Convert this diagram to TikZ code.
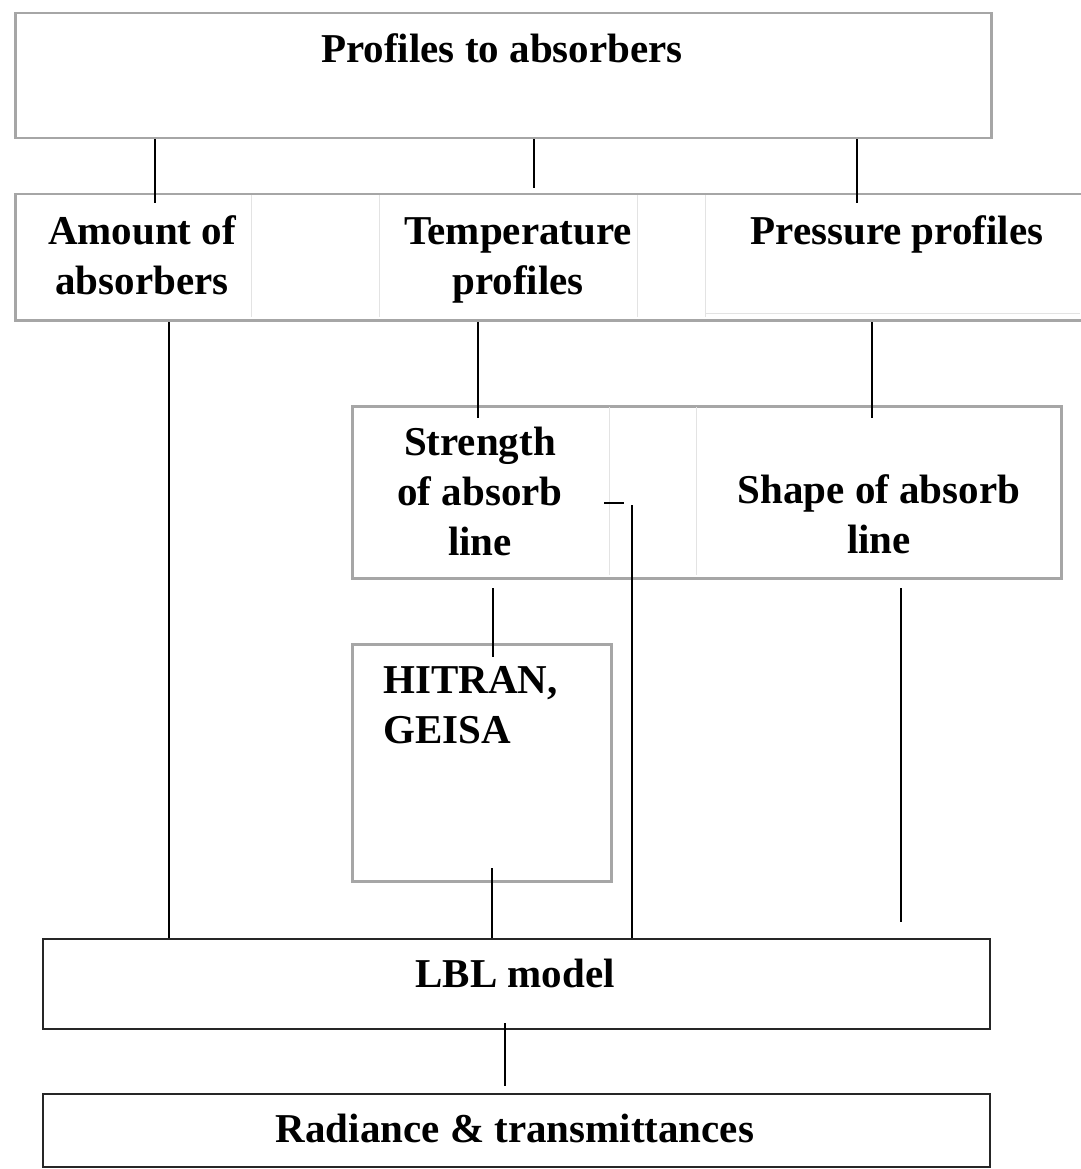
\documentclass[tikz,border=0pt]{standalone}
\usepackage{fontspec}
\setmainfont{Liberation Serif}
\usetikzlibrary{positioning}
\definecolor{boxgrey}{HTML}{A6A6A6}
\definecolor{cellgrey}{HTML}{E3E3E3}
\tikzset{greybox/.style = {draw=boxgrey, line width=2.5pt, anchor=north west, inner sep=0pt}}
\tikzset{darkbox/.style = {draw=black!85, line width=2pt, anchor=north west, inner sep=0pt}}
\tikzset{txt/.style = {font=\bfseries\fontsize{41}{50}\selectfont, align=center, anchor=base, inner sep=0pt}}
\tikzset{wire/.style = {line width=2pt}}
\tikzset{cell/.style = {draw=cellgrey, line width=1pt}}

\begin{document}
\begin{tikzpicture}[x=1pt, y=-1pt]
  \useasboundingbox (0, 0) rectangle (1080, 1169);

  % boxes
  \node [greybox, minimum width=976pt, minimum height=125pt] (prof) at (14, 12) {};
  \node [greybox, minimum width=1080pt, minimum height=126pt] (tab) at (14, 193) {};
  \node [greybox, minimum width=709pt, minimum height=172pt] (absline) at (351, 405) {};
  \node [greybox, minimum width=259pt, minimum height=237pt] (db) at (351, 643) {};
  \node [darkbox, minimum width=947pt, minimum height=90pt] (lbl) at (42, 938) {};
  \node [darkbox, minimum width=947pt, minimum height=73pt] (rad) at (42, 1093) {};

  % faint cell borders
  \foreach \x in {251, 379, 637, 705}
    \draw [cell] (\x, 195) -- (\x, 317);
  \draw [cell] (705, 313) -- (1080, 313);
  \foreach \x in {609, 696}
    \draw [cell] (\x, 407) -- (\x, 575);

  % texts (base = last line)
  \node [txt] (t-prof) at (502, 63) {Profiles to absorbers};
  \node [txt] (t-amt) at (142, 294) {Amount of\\absorbers};
  \node [txt] (t-temp) at (518, 294) {Temperature\\profiles};
  \node [txt] (t-pres) at (897, 244) {Pressure profiles};
  \node [txt] (t-str) at (480, 555) {Strength\\of absorb\\line};
  \node [txt] (t-shape) at (879, 553) {Shape of absorb\\line};
  \node [txt, align=left, anchor=base west] (t-db) at (383, 743) {HITRAN,\\GEISA};
  \node [txt] (t-lbl) at (515, 987) {LBL model};
  \node [txt] (t-rad) at (515, 1142) {Radiance \& transmittances};

  % connectors
  \coordinate (c-amt) at (155, 203);
  \coordinate (c-temp) at (534, 188);
  \coordinate (c-pres) at (857, 203);
  \draw [wire] (prof.south -| c-amt) -- (c-amt);
  \draw [wire] (prof.south -| c-temp) -- (c-temp);
  \draw [wire] (prof.south -| c-pres) -- (c-pres);

  \coordinate (d-amt) at (169, 322);
  \coordinate (d-temp) at (478, 322);
  \coordinate (d-pres) at (872, 322);
  \draw [wire] (d-amt) -- (d-amt |- lbl.north);
  \draw [wire] (d-temp) -- (478, 418);
  \draw [wire] (d-pres) -- (872, 418);

  \coordinate (tick) at (604, 503);
  \coordinate (d-str) at (632, 505);
  \draw [wire] (tick) -- ++(20, 0);
  \draw [wire] (d-str) -- (d-str |- lbl.north);

  \coordinate (e-str) at (493, 588);
  \coordinate (e-shape) at (901, 588);
  \draw [wire] (e-str) -- (493, 657);
  \draw [wire] (e-shape) -- (901, 922);

  \coordinate (f-db) at (492, 868);
  \draw [wire] (f-db) -- (f-db |- lbl.north);

  \coordinate (g-lbl) at (505, 1023);
  \draw [wire] (g-lbl) -- (505, 1086);
\end{tikzpicture}
\end{document}
